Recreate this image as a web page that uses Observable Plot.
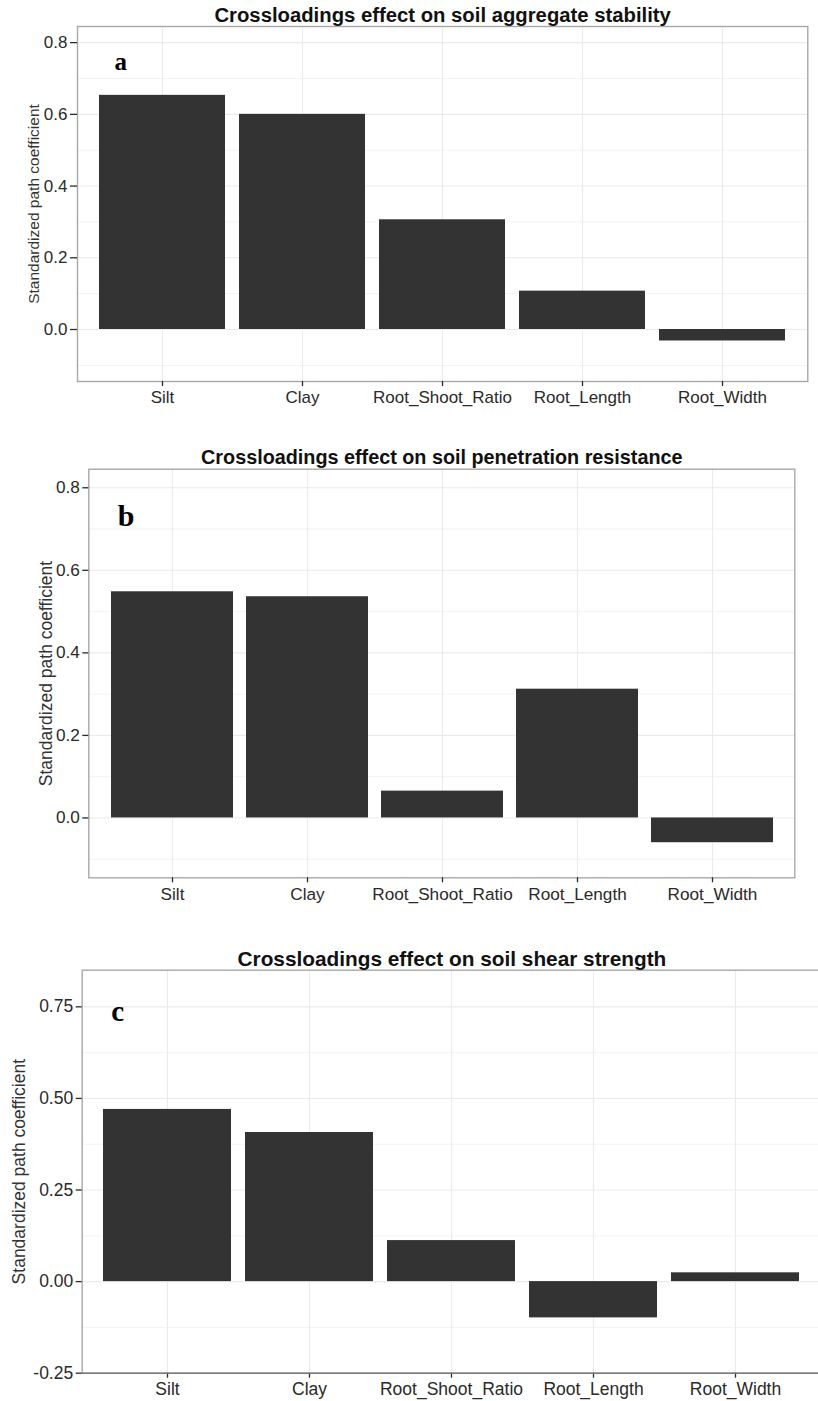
<!DOCTYPE html>
<html>
<head>
<meta charset="utf-8">
<script src="https://cdn.jsdelivr.net/npm/d3@7"></script>
<script src="https://cdn.jsdelivr.net/npm/@observablehq/plot@0.6"></script>
<style>
  html, body { margin: 0; padding: 0; background: #fff; overflow: hidden; }
  #page { position: relative; width: 818px; height: 1401px; overflow: hidden; }
  .panel { position: absolute; left: 0; width: 840px; }
  .panel svg { display: block; overflow: visible; max-width: none !important; }
</style>
</head>
<body>
<div id="page">
  <div class="panel" id="pa" style="top:0px"></div>
  <div class="panel" id="pb" style="top:430px"></div>
  <div class="panel" id="pc" style="top:920px"></div>
</div>
<script>
// Predictors shared by all three panels
const categories = ["Silt", "Clay", "Root_Shoot_Ratio", "Root_Length", "Root_Width"];

// Standardized path coefficients (crossloadings) per soil property
const aggregateStability    = [0.653, 0.600, 0.306, 0.107, -0.032];
const penetrationResistance = [0.548, 0.536, 0.065, 0.312, -0.060];
const shearStrength         = [0.470, 0.407, 0.112, -0.099, 0.024];

// Axis ticks
const ticksAB = [0, 0.2, 0.4, 0.6, 0.8];
const minorAB = [-0.1, 0.1, 0.3, 0.5, 0.7];
const ticksC  = [-0.25, 0, 0.25, 0.5, 0.75];
const minorC  = [-0.125, 0.125, 0.375, 0.625];

const titles = [
  "Crossloadings effect on soil aggregate stability",
  "Crossloadings effect on soil penetration resistance",
  "Crossloadings effect on soil shear strength"
];
const letters = ["a", "b", "c"];
const yTitle = "Standardized path coefficient";

const sans = "'Liberation Sans', Arial, Helvetica, sans-serif";
const serif = "'Liberation Serif', 'Times New Roman', serif";

function panel(cfg) {
  const rows = categories.map((c, i) => ({category: c, value: cfg.values[i]}));
  const marks = [
    Plot.ruleY(cfg.minor, {stroke: "#f3f3f3", strokeWidth: 1}),
    Plot.gridY({ticks: cfg.ticks, stroke: "#ebebeb", strokeOpacity: 1, strokeWidth: 1.1}),
    Plot.gridX({stroke: "#ebebeb", strokeOpacity: 1, strokeWidth: 1.1}),
    Plot.barY(rows, {x: "category", y: "value", fill: "#333333"}),
    Plot.frame({stroke: "#a8a8a8", strokeWidth: 1.4}),
    Plot.axisY({
      ticks: cfg.ticks, tickFormat: cfg.fmt, tickSize: cfg.yTickSize, tickPadding: 3,
      label: null, color: "#2a2a2a", strokeWidth: 1.3
    }),
    Plot.axisX({
      tickSize: 5, tickPadding: cfg.xPad, label: null, color: "#2a2a2a",
      strokeWidth: 1.3
    }),
    Plot.text([cfg.title], {
      frameAnchor: "top", dy: cfg.titleDy, lineAnchor: "bottom",
      fontSize: cfg.titleFont, fontWeight: "bold", fill: "#111", fontFamily: sans
    }),
    Plot.text([yTitle], {
      frameAnchor: "left", dx: cfg.yTitleDx, rotate: -90, lineAnchor: "middle",
      textAnchor: "middle", fontSize: cfg.yTitleFont, fill: "#333", fontFamily: sans
    }),
    Plot.text([cfg.letter], {
      frameAnchor: "top-left", dx: cfg.letterDx, dy: cfg.letterDy,
      textAnchor: "start", lineAnchor: "bottom",
      fontSize: cfg.letterFont, fontWeight: "bold", fill: "#000", fontFamily: serif
    })
  ];
  if (cfg.bottomRule) marks.push(Plot.ruleY([cfg.domain[0]], {stroke: "#7a7a7a", strokeWidth: 1.4}));
  return Plot.plot({
    width: cfg.width,
    height: cfg.height,
    marginLeft: cfg.ml,
    marginRight: cfg.mr,
    marginTop: cfg.mt,
    marginBottom: cfg.mb,
    style: {fontFamily: sans, fontSize: cfg.tickFont + "px", background: "transparent", color: "#2a2a2a"},
    x: {domain: categories, paddingInner: 0.1, paddingOuter: 0.15},
    y: {domain: cfg.domain},
    marks
  });
}

const fmt1 = d => d.toFixed(1);
const fmt2 = d => d.toFixed(2);

document.getElementById("pa").append(panel({
  values: aggregateStability, ticks: ticksAB, minor: minorAB, fmt: fmt1,
  domain: [-0.145, 0.845], title: titles[0], letter: letters[0],
  width: 818, height: 420, ml: 77, mr: 10.7, mt: 26, mb: 39,
  yTickSize: 7, tickFont: 17, xPad: 4,
  titleFont: 20.3, titleDy: -4.5, yTitleDx: -43.5, yTitleFont: 15.5,
  letterDx: 37, letterDy: 43, letterFont: 25
}));

document.getElementById("pb").append(panel({
  values: penetrationResistance, ticks: ticksAB, minor: minorAB, fmt: fmt1,
  domain: [-0.145, 0.845], title: titles[1], letter: letters[1],
  width: 818, height: 480, ml: 88.3, mr: 23.7, mt: 38.7, mb: 32.7,
  yTickSize: 6, tickFont: 17.2, xPad: 5,
  titleFont: 19.8, titleDy: -5.4, yTitleDx: -42.3, yTitleFont: 17.5,
  letterDx: 29, letterDy: 57, letterFont: 30
}));

document.getElementById("pc").append(panel({
  values: shearStrength, ticks: ticksC, minor: minorC, fmt: fmt2,
  domain: [-0.25, 0.85], title: titles[2], letter: letters[2],
  width: 830, height: 481, ml: 81.7, mr: 8.9, mt: 49.7, mb: 28.3,
  yTickSize: 6, tickFont: 17.5, xPad: 4,
  titleFont: 20.8, titleDy: -4.7, yTitleDx: -62.7, yTitleFont: 17.5,
  letterDx: 29, letterDy: 51, letterFont: 29, bottomRule: true
}));
</script>
</body>
</html>
